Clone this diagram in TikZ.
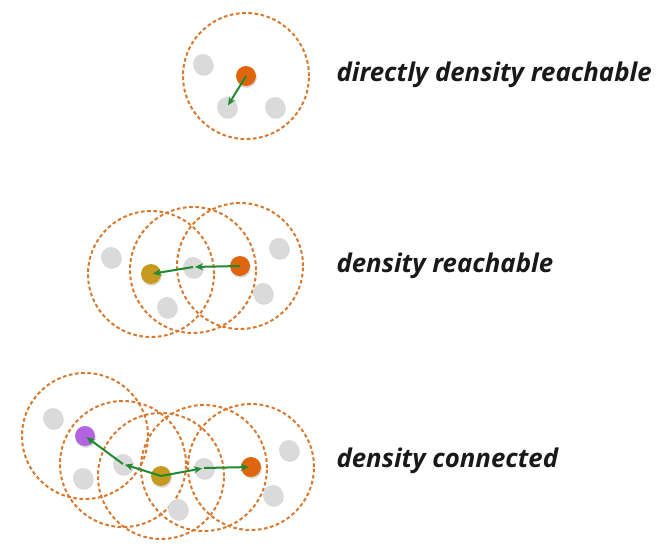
\documentclass[tikz,border=0pt]{standalone}
\usepackage{fontspec}
\setmainfont{Open Sans}
\usetikzlibrary{shadows, arrows.meta}

\definecolor{ringc}{HTML}{D9782D}
\definecolor{grayc}{HTML}{DADADA}
\definecolor{corec}{HTML}{E0650F}
\definecolor{oldc}{HTML}{C69A1E}
\definecolor{purpc}{HTML}{B363E0}
\definecolor{arrc}{HTML}{1F8A30}

\begin{document}
\begin{tikzpicture}[x=1pt, y=-1pt,
    pt/.style = {circle, inner sep=0pt, minimum size=20pt, draw=none,
                 drop shadow={shadow xshift=0.8pt, shadow yshift=-1.8pt, opacity=0.3}},
    ring/.style = {draw=ringc, line width=2pt, dash pattern=on 3.6pt off 2.6pt},
    link/.style = {draw=arrc, line width=2pt, -{Stealth[length=8pt, width=7pt]}, shorten >=2pt},
    lbl/.style = {anchor=west, font=\fontsize{25.8}{30}\selectfont\bfseries\itshape, text=black!90}]
    \useasboundingbox (0,0) rectangle (667,549);

    % directly density reachable
    \draw[ring] (246,76) circle[radius=63pt];
    \node[pt, fill=grayc] at (203,64) (a1) {};
    \node[pt, fill=corec] at (246,76) (a2) {};
    \node[pt, fill=grayc] at (227,107) (a3) {};
    \node[pt, fill=grayc] at (275,107) (a4) {};
    \draw[link] (a2.center) -- (a3.center);
    \node[lbl] at (333,75) (ta) {directly density reachable};

    % density reachable
    \draw[ring] (151,274) circle[radius=63pt];
    \draw[ring] (193,270) circle[radius=63pt];
    \draw[ring] (240,266) circle[radius=63pt];
    \node[pt, fill=grayc] at (111,257) (b1) {};
    \node[pt, fill=oldc] at (151,274) (b2) {};
    \node[pt, fill=grayc] at (193,267) (b3) {};
    \node[pt, fill=corec] at (240,266) (b4) {};
    \node[pt, fill=grayc] at (279,248) (b5) {};
    \node[pt, fill=grayc] at (263,293) (b6) {};
    \node[pt, fill=grayc] at (167,307) (b7) {};
    \draw[link] (b4.center) -- (b3.center);
    \draw[link] (b3.center) -- (b2.center);
    \node[lbl] at (333,266) (tb) {density reachable};

    % density connected
    \draw[ring] (85,436) circle[radius=63pt];
    \draw[ring] (123,464) circle[radius=63pt];
    \draw[ring] (161,476) circle[radius=63pt];
    \draw[ring] (204,468) circle[radius=63pt];
    \draw[ring] (251,467) circle[radius=63pt];
    \node[pt, fill=grayc] at (53,418) (c1) {};
    \node[pt, fill=purpc] at (85,436) (c2) {};
    \node[pt, fill=grayc] at (83,478) (c3) {};
    \node[pt, fill=grayc] at (123,464) (c4) {};
    \node[pt, fill=oldc] at (161,476) (c5) {};
    \node[pt, fill=grayc] at (178,509) (c6) {};
    \node[pt, fill=grayc] at (204,468) (c7) {};
    \node[pt, fill=corec] at (251,467) (c8) {};
    \node[pt, fill=grayc] at (289,450) (c9) {};
    \node[pt, fill=grayc] at (273,495) (c10) {};
    \draw[link] (c5.center) -- (c4.center);
    \draw[link] (c4.center) -- (c2.center);
    \draw[link] (c5.center) -- (c7.center);
    \draw[link] (c7.center) -- (c8.center);
    \node[lbl] at (333,461) (tc) {density connected};
\end{tikzpicture}
\end{document}
